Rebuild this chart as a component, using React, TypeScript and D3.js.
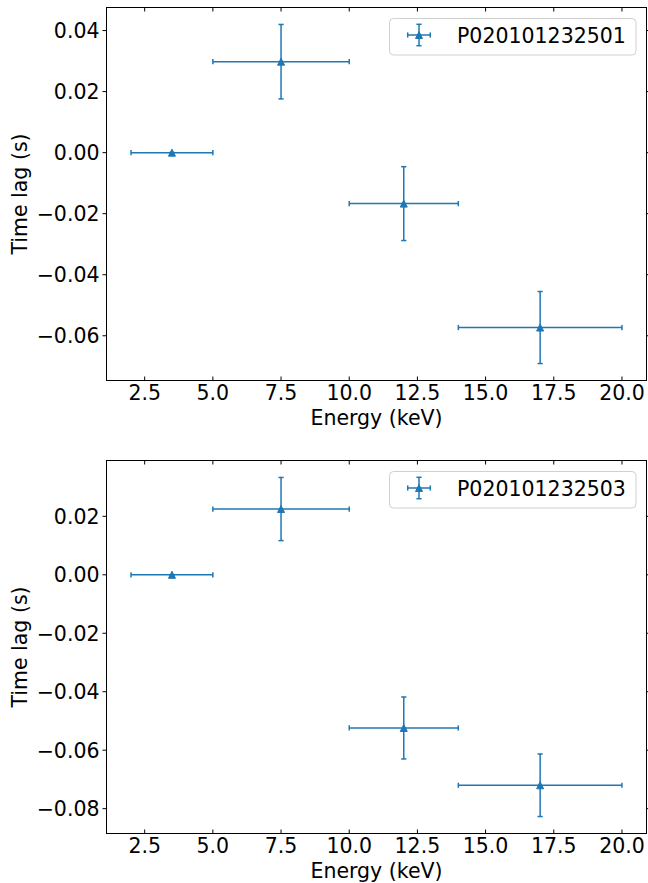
import React from "react";
import * as d3 from "d3";

// energy bins (keV)
const energy = [3.5, 7.5, 12, 17];
const energyErr = [1.5, 2.5, 2, 3];

// time lags (s) for each obsid
const lag2501 = [0, 0.0298, -0.0167, -0.0573];
const lagErr2501 = [0, 0.0122, 0.0121, 0.0118];
const lag2503 = [0, 0.0225, -0.0524, -0.072];
const lagErr2503 = [0, 0.0108, 0.0106, 0.0107];

const xTicks = [2.5, 5, 7.5, 10, 12.5, 15, 17.5, 20];
const yTicks2501 = [-0.06, -0.04, -0.02, 0, 0.02, 0.04];
const yTicks2503 = [-0.08, -0.06, -0.04, -0.02, 0, 0.02];

const W = 648;
const H = 883;
const color = "#1f77b4";
const font = "'DejaVu Sans', sans-serif";
const fs = 20.5;
const fmtY = (v: number) => d3.format(".2f")(v).replace("-", "\u2212");
const fmtX = d3.format(".1f");

// matplotlib style autoscale with 5% margins
const pad = (lo: number, hi: number) => {
  const m = (hi - lo) * 0.05;
  return [lo - m, hi + m];
};

const Panel = ({ top, lag, lagErr, yTicks, label }) => {
  const left = 106.5;
  const right = 646.5;
  const bottom = top + 373;

  const x = d3
    .scaleLinear()
    .domain(pad(d3.min(energy.map((e, i) => e - energyErr[i])), d3.max(energy.map((e, i) => e + energyErr[i]))))
    .range([left, right]);
  const y = d3
    .scaleLinear()
    .domain(pad(d3.min(lag.map((v, i) => v - lagErr[i])), d3.max(lag.map((v, i) => v + lagErr[i]))))
    .range([bottom, top]);

  const cap = 2.6;
  const tri = (cx: number, cy: number, s: number) =>
    `M${cx},${cy - s / 2}L${cx - s / 2},${cy + s / 2}L${cx + s / 2},${cy + s / 2}Z`;

  // legend box
  const lw = 246.5;
  const lh = 36.5;
  const lx = right - 10.5 - lw;
  const ly = top + 11;
  const hx = lx + 29.5;
  const hy = ly + 16.5;

  return (
    <g>
      {/* error bars */}
      {energy.map((e, i) => (
        <g key={i} stroke={color} strokeWidth={1.5}>
          <line x1={x(e - energyErr[i])} x2={x(e + energyErr[i])} y1={y(lag[i])} y2={y(lag[i])} />
          <line x1={x(e)} x2={x(e)} y1={y(lag[i] - lagErr[i])} y2={y(lag[i] + lagErr[i])} />
          <line x1={x(e - energyErr[i])} x2={x(e - energyErr[i])} y1={y(lag[i]) - cap} y2={y(lag[i]) + cap} />
          <line x1={x(e + energyErr[i])} x2={x(e + energyErr[i])} y1={y(lag[i]) - cap} y2={y(lag[i]) + cap} />
          <line x1={x(e) - cap} x2={x(e) + cap} y1={y(lag[i] - lagErr[i])} y2={y(lag[i] - lagErr[i])} />
          <line x1={x(e) - cap} x2={x(e) + cap} y1={y(lag[i] + lagErr[i])} y2={y(lag[i] + lagErr[i])} />
        </g>
      ))}
      {energy.map((e, i) => (
        <path key={"m" + i} d={tri(x(e), y(lag[i]), 7)} fill={color} stroke={color} strokeWidth={1} />
      ))}

      {/* x ticks (inward, top and bottom) */}
      {xTicks.map((t) => (
        <g key={"x" + t}>
          <line x1={x(t)} x2={x(t)} y1={bottom} y2={bottom - 4} stroke="#000" strokeWidth={1} />
          <line x1={x(t)} x2={x(t)} y1={top} y2={top + 4} stroke="#000" strokeWidth={1} />
          <text x={x(t)} y={bottom + 19.8} textAnchor="middle" fontSize={fs} fontFamily={font} fill="#000">
            {fmtX(t)}
          </text>
        </g>
      ))}
      {/* y ticks (outward, left and right) */}
      {yTicks.map((t) => (
        <g key={"y" + t}>
          <line x1={left} x2={left - 4} y1={y(t)} y2={y(t)} stroke="#000" strokeWidth={1} />
          <line x1={right} x2={right + 4} y1={y(t)} y2={y(t)} stroke="#000" strokeWidth={1} />
          <text x={99.5} y={y(t) + 7.4} textAnchor="end" fontSize={fs} fontFamily={font} fill="#000">
            {fmtY(t)}
          </text>
        </g>
      ))}

      <rect x={left} y={top} width={right - left} height={bottom - top} fill="none" stroke="#000" strokeWidth={1} />

      <text x={(left + right) / 2} y={bottom + 44.5} textAnchor="middle" fontSize={fs} fontFamily={font} fill="#000">
        Energy (keV)
      </text>
      <text
        transform={`translate(26.5,${(top + bottom) / 2}) rotate(-90)`}
        textAnchor="middle"
        fontSize={fs}
        fontFamily={font}
        fill="#000"
      >
        Time lag (s)
      </text>

      {/* legend */}
      <rect x={lx} y={ly} width={lw} height={lh} rx={4} fill="#fff" fillOpacity={0.8} stroke="#d0d0d0" strokeWidth={1} />
      <g stroke={color} strokeWidth={1.5}>
        <line x1={hx - 11.3} x2={hx + 11.3} y1={hy} y2={hy} />
        <line x1={hx} x2={hx} y1={hy - 10.7} y2={hy + 10.7} />
        <line x1={hx - 11.3} x2={hx - 11.3} y1={hy - cap} y2={hy + cap} />
        <line x1={hx + 11.3} x2={hx + 11.3} y1={hy - cap} y2={hy + cap} />
        <line x1={hx - cap} x2={hx + cap} y1={hy - 10.7} y2={hy - 10.7} />
        <line x1={hx - cap} x2={hx + cap} y1={hy + 10.7} y2={hy + 10.7} />
      </g>
      <path d={tri(hx, hy, 7)} fill={color} stroke={color} strokeWidth={1} />
      <text x={lx + 67.5} y={hy + 7.5} fontSize={fs} fontFamily={font} fill="#000">
        {label}
      </text>
    </g>
  );
};

export default function App() {
  return (
    <div style={{ position: "absolute", left: 0, top: 0 }}>
      <svg width={W} height={H} style={{ display: "block", background: "#fff" }}>
        <Panel top={7.5} lag={lag2501} lagErr={lagErr2501} yTicks={yTicks2501} label="P020101232501" />
        <Panel top={460.5} lag={lag2503} lagErr={lagErr2503} yTicks={yTicks2503} label="P020101232503" />
      </svg>
    </div>
  );
}
